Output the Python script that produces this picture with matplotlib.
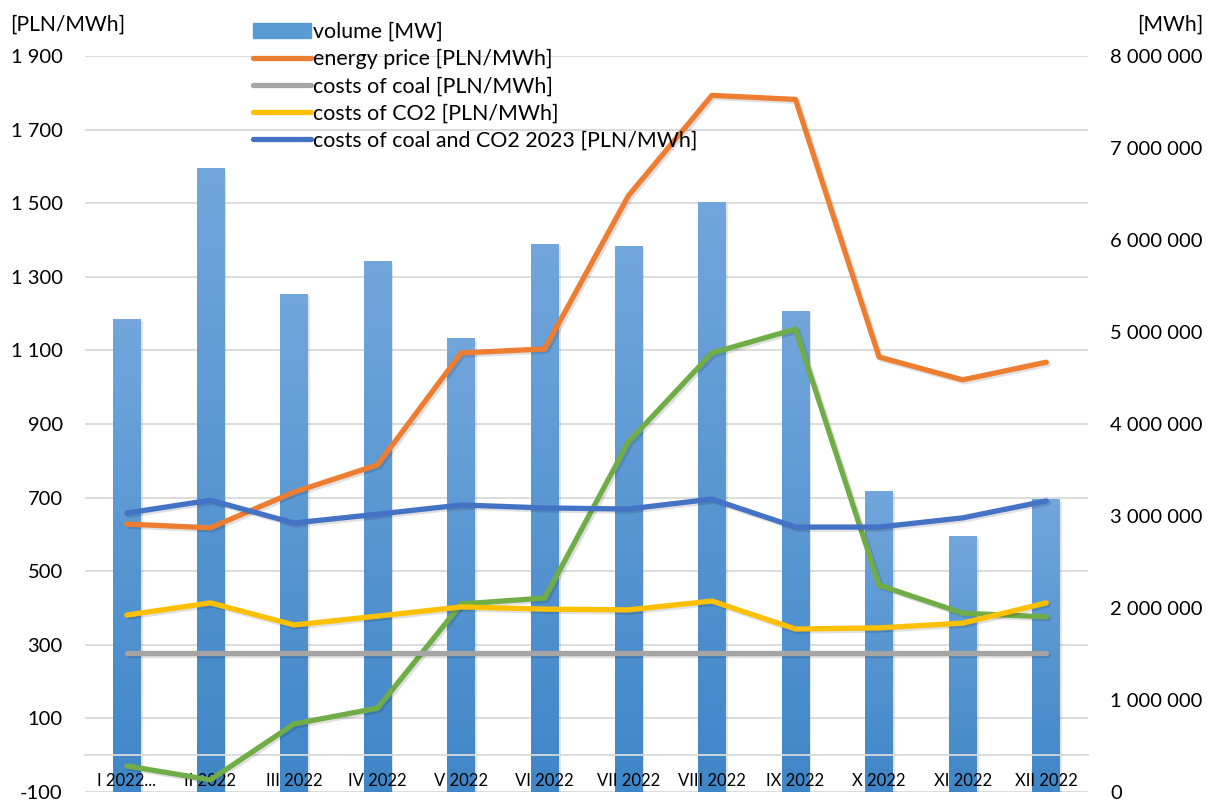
import matplotlib
matplotlib.use('Agg')
import matplotlib.pyplot as plt
import matplotlib.patheffects as pe
import matplotlib.transforms as mtransforms
from matplotlib.colors import LinearSegmentedColormap
from matplotlib.patches import Patch
from matplotlib.lines import Line2D
import numpy as np

plt.rcParams['font.family'] = ['Lato', 'DejaVu Sans']

months = ['I 2022...', 'II 2022', 'III 2022', 'IV 2022', 'V 2022', 'VI 2022',
          'VII 2022', 'VIII 2022', 'IX 2022', 'X 2022', 'XI 2022', 'XII 2022']
volume = [5140000, 6780000, 5410000, 5770000, 4930000, 5960000,
          5930000, 6410000, 5230000, 3270000, 2780000, 3180000]
energy_price = [628, 618, 715, 789, 1093, 1104, 1520, 1793, 1782, 1082, 1020, 1068]
coal = [278] * 12
co2 = [381, 414, 354, 378, 403, 397, 395, 419, 343, 346, 359, 414]
coal_co2_2023 = [658, 693, 631, 655, 680, 672, 669, 696, 620, 620, 645, 691]
green_line = [-29, -67, 85, 128, 411, 427, 851, 1093, 1158, 462, 386, 376]

left_ticks = list(range(-100, 2000, 200))
right_ticks = list(range(0, 8000001, 1000000))

def spaced(v):
    return f"{v:,}".replace(',', ' ')

fig = plt.figure(figsize=(12.08, 8.01), dpi=100)
ax = fig.add_axes([0.0704, 0.0112, 0.8303, 0.9189])
ax2 = ax.twinx()
ax.set_zorder(ax2.get_zorder() + 1)
ax.patch.set_visible(False)

x = np.arange(len(months))

# bars (right axis) with vertical gradient
bars = ax2.bar(x, volume, width=0.33, color='#5b9bd5', zorder=2,
               path_effects=[pe.SimplePatchShadow(offset=(1.5, -1.5), alpha=0.12), pe.Normal()])
cmap = LinearSegmentedColormap.from_list('bar', ['#3f86c8', '#72a6dc'])
grad = np.linspace(0, 1, 256).reshape(-1, 1)
for b in bars:
    x0, w, h = b.get_x(), b.get_width(), b.get_height()
    im = ax2.imshow(grad, extent=[x0, x0 + w, 0, h], aspect='auto', cmap=cmap,
                    origin='lower', zorder=2.1)
    im.set_clip_path(b)

ax.set_xlim(-0.5, len(months) - 0.5)
ax.set_ylim(-100, 1900)
ax2.set_ylim(0, 8000000)
ax2.set_xlim(-0.5, len(months) - 0.5)

# gridlines at left ticks, behind the bars
blend = mtransforms.blended_transform_factory(ax2.transAxes, ax.transData)
for t in left_ticks:
    ax2.plot([0, 1], [t, t], transform=blend, color='#d9d9d9', lw=1.3, zorder=0)

shadow = [pe.SimpleLineShadow(offset=(1.5, -1.5), alpha=0.12, shadow_color='k'), pe.Normal()]
lw = 3.8
series = [
    (energy_price, '#ed7d31', 'energy price [PLN/MWh]'),
    (coal, '#a5a5a5', 'costs of coal [PLN/MWh]'),
    (co2, '#ffc000', 'costs of CO2 [PLN/MWh]'),
    (coal_co2_2023, '#4472c4', 'costs of coal and CO2 2023 [PLN/MWh]'),
]
ax.plot(x, green_line, color='#70ad47', lw=lw, solid_capstyle='round',
        solid_joinstyle='round', path_effects=shadow, zorder=3)
for vals, col, lab in series:
    ax.plot(x, vals, color=col, lw=lw, solid_capstyle='round',
            solid_joinstyle='round', path_effects=shadow, zorder=3)

for s in ax.spines.values():
    s.set_visible(False)
for s in ax2.spines.values():
    s.set_visible(False)
ax.spines['bottom'].set_visible(True)
ax.spines['bottom'].set_position(('data', 0))
ax.spines['bottom'].set_color('#d9d9d9')
ax.spines['bottom'].set_linewidth(1.3)

ax.set_xticks(x)
ax.set_xticklabels(months, fontsize=12)
ax.tick_params(axis='x', length=0, pad=13)
ax.set_yticks(left_ticks)
ax.set_yticklabels([spaced(t) for t in left_ticks], fontsize=14.5)
ax.tick_params(axis='y', length=0, pad=16)
ax2.set_yticks(right_ticks)
ax2.set_yticklabels([spaced(t) for t in right_ticks], fontsize=14.5)
ax2.tick_params(axis='y', length=0, pad=16)

fig.text(10 / 1208, 1 - 25 / 801, '[PLN/MWh]', ha='left', va='center', fontsize=15.2)
fig.text(1203 / 1208, 1 - 25 / 801, '[MWh]', ha='right', va='center', fontsize=15.2)

handles = [Patch(color='#5b9bd5', label='volume [MW]')]
for vals, col, lab in series:
    handles.append(Line2D([], [], color=col, lw=lw, solid_capstyle='round', label=lab))
fig.legend(handles=handles, loc='upper left', bbox_to_anchor=(253 / 1208, 1 - 22 / 801),
           frameon=False, fontsize=15.4, handlelength=2.7, handletextpad=0.12,
           labelspacing=0.33, borderpad=0, borderaxespad=0)

fig.savefig('out.png', dpi=100)
